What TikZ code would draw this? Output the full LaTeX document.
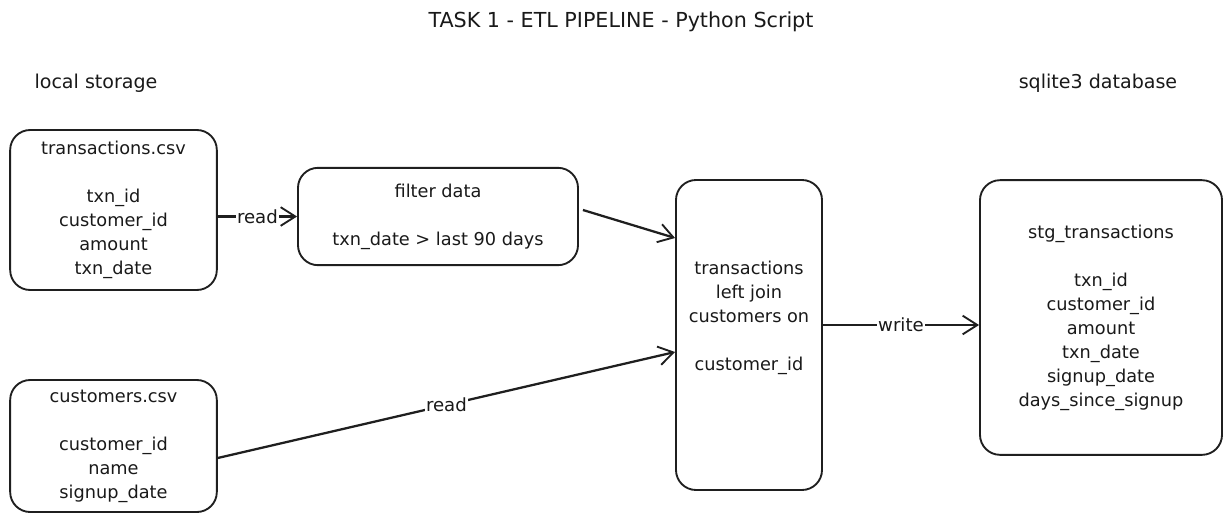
\documentclass[tikz,border=0pt]{standalone}
\usepackage{fontspec}
\setmainfont{DejaVu Sans}
\usetikzlibrary{arrows.meta,calc}
\begin{document}
\begin{tikzpicture}[x=0.75pt,y=-0.75pt,
  box/.style={draw=black!88,line width=1.4pt,rounded corners=15pt,rectangle,inner sep=0pt},
  txt/.style={align=center,font=\fontsize{13.3}{18}\selectfont,text=black!90},
  lbl/.style={fill=white,inner sep=1pt,font=\fontsize{13.6}{15}\selectfont,text=black!90},
  conn/.style={draw=black!88,line width=1.7pt,-{Straight Barb[length=11pt,width=14pt,line width=1.4pt]}},
  hdr/.style={font=\fontsize{14.3}{16}\selectfont,text=black!90},
  ttl/.style={font=\fontsize{15.5}{18}\selectfont,text=black!90}]
\useasboundingbox (0,0) rectangle (1229,525);
\node[ttl] (title) at (621,22) {TASK 1 - ETL PIPELINE - Python Script};
\node[hdr] (local) at (96,83) {local storage};
\node[hdr] (sqlite) at (1098,83) {sqlite3 database};

\node[box,txt,minimum width=155pt,minimum height=120pt] (tx) at (113.5,210)
  {transactions.csv\\[18pt]txn\_id\\customer\_id\\amount\\txn\_date};
\node[box,txt,minimum width=210pt,minimum height=73pt] (filt) at (438,216.5)
  {filter data\\[18pt]txn\_date > last 90 days};
\node[box,minimum width=109.5pt,minimum height=232.5pt] (join) at (749,335) {};
\node[txt] (jointxt) at (749,318) {transactions\\left join\\customers on\\[18pt]customer\_id};
\node[box,txt,minimum width=181.5pt,minimum height=206pt] (stg) at (1101,317.5)
  {stg\_transactions\\[18pt]txn\_id\\customer\_id\\amount\\txn\_date\\signup\_date\\days\_since\_signup};
\node[box,txt,minimum width=155pt,minimum height=99pt] (cust) at (113.5,446)
  {customers.csv\\[18pt]customer\_id\\name\\signup\_date};

\coordinate (y238) at (0,238);
\coordinate (y352) at (0,352);
\coordinate (y325) at (0,325);
\coordinate (y458) at (0,458);
\coordinate (y210) at (0,210);

\draw[conn] (tx.east |- filt.west) -- node[lbl] (r1) {read} (filt.west);
\draw[conn] ($(filt.east |- y210)+(4,0)$) -- (join.west |- y238);
\draw[conn] (cust.east |- y458) -- node[lbl,pos=0.5] (r2) {read} (join.west |- y352);
\draw[conn] (join.east |- y325) -- node[lbl] (w1) {write} (stg.west |- y325);
\end{tikzpicture}
\end{document}
